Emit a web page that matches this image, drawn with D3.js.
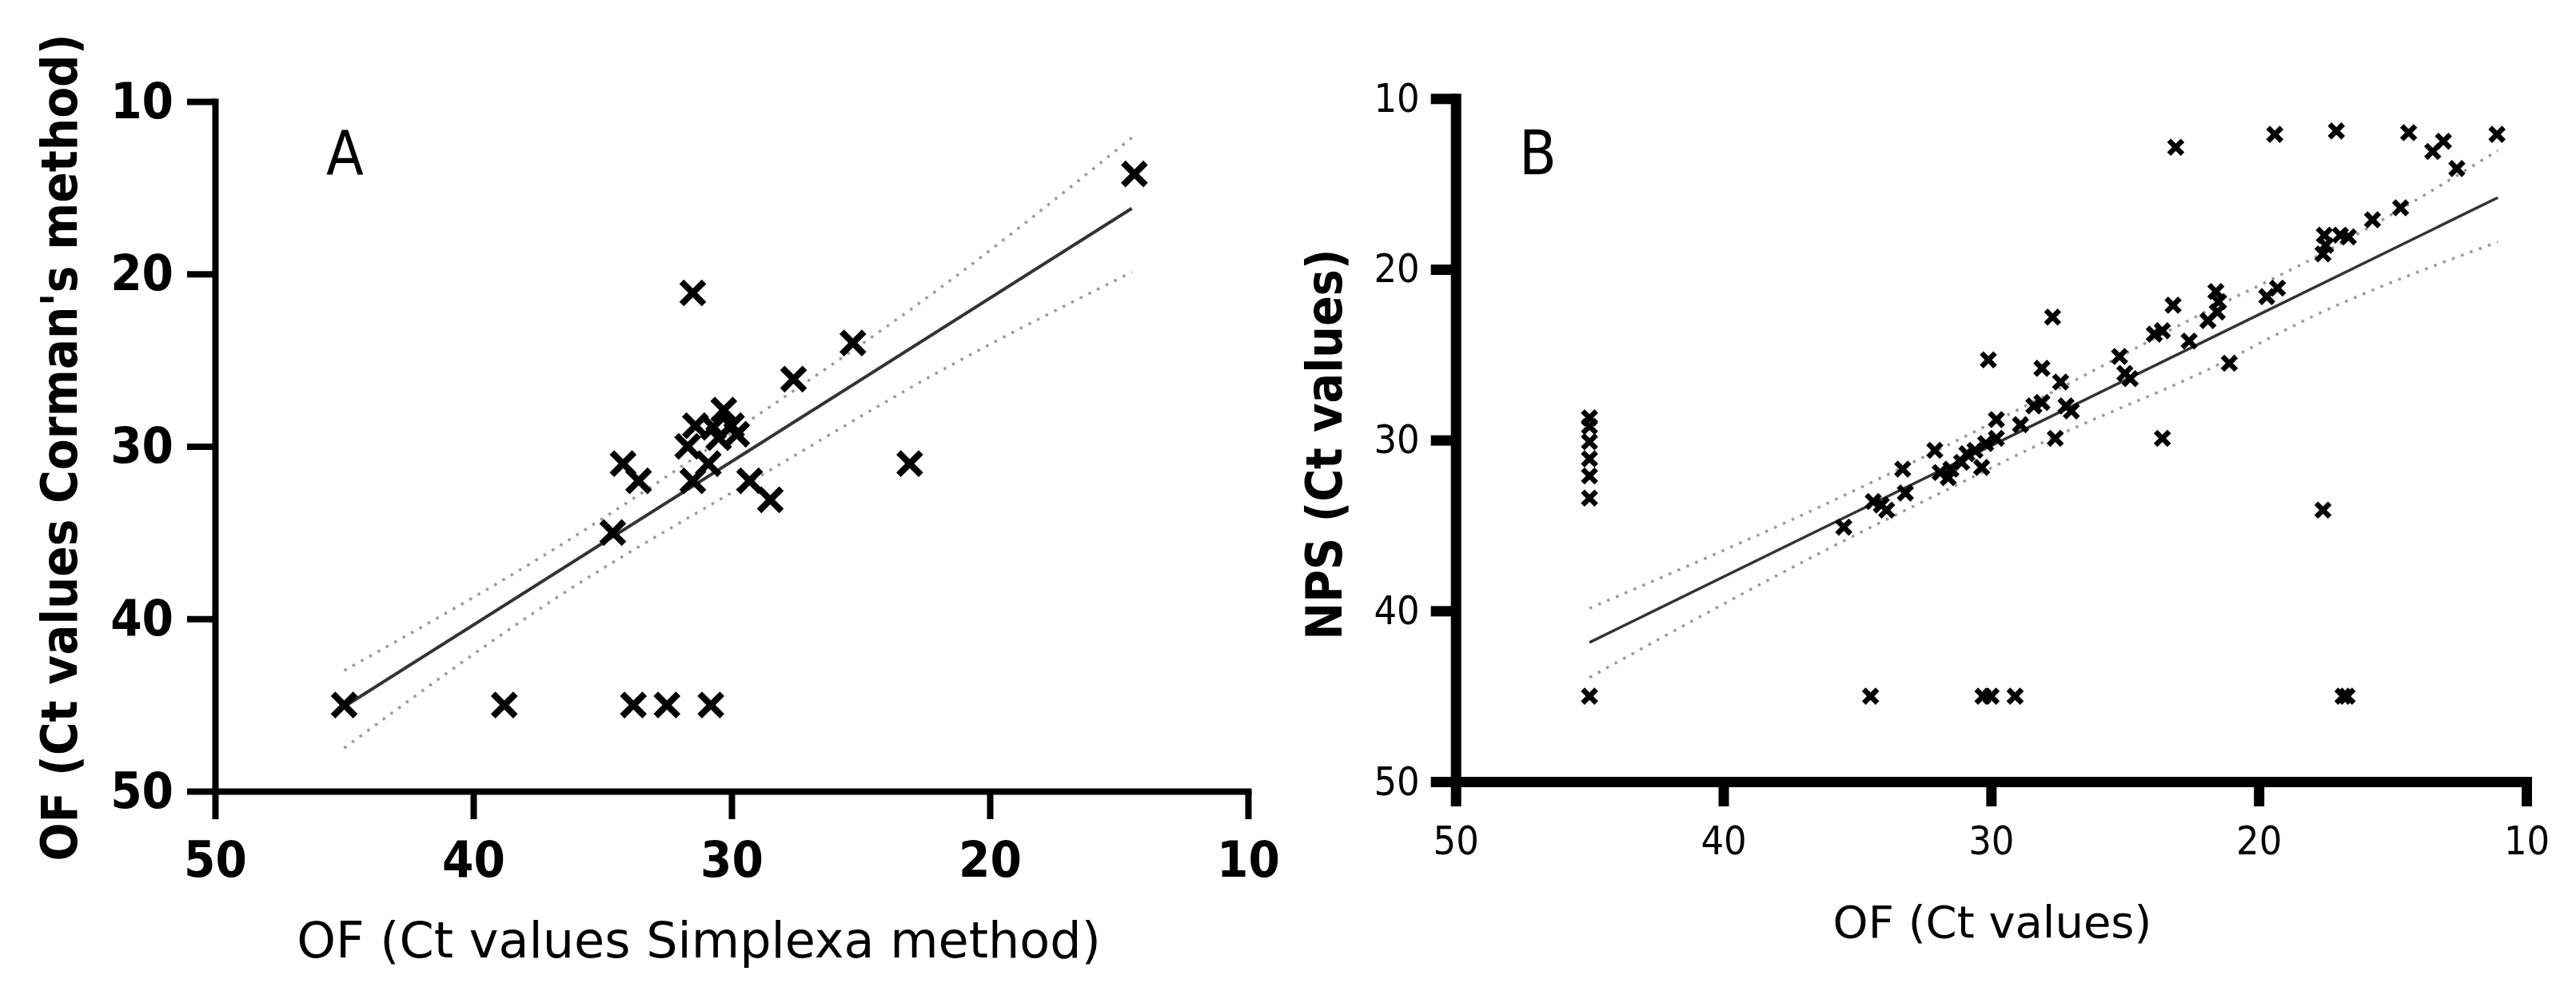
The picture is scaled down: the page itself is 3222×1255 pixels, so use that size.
<!DOCTYPE html>
<html>
<head>
<meta charset="utf-8">
<script src="https://cdn.jsdelivr.net/npm/d3@7"></script>
<style>
  body { margin: 0; background: #fff; }
  svg { display: block; }
  .tick text { fill: #000; }
</style>
</head>
<body>
<div class="chart"></div>
<script>
// ---- data ----
const tickValues = [10, 20, 30, 40, 50]

// panel A : OF Simplexa (x) vs OF Corman (y)
const aX = [14.4, 31.5, 25.3, 27.6, 30.3, 31.4, 30.7, 30.0, 29.8, 30.5, 31.7, 30.9,
            34.2, 33.6, 31.5, 29.3, 28.5, 23.1, 34.6, 45.0, 38.8, 33.8, 32.5, 30.8]
const aY = [14.2, 21.1, 24.0, 26.1, 27.9, 28.8, 28.9, 28.8, 29.3, 29.5, 30.0, 31.0,
            31.0, 32.0, 32.0, 32.0, 33.1, 31.0, 35.0, 45.0, 45.0, 45.0, 45.0, 45.0]
const aFitX = [45.0, 14.5]
const aFitY = [45.1, 16.2]
const aBandX = [45.0, 36.7, 29.1, 22.0, 14.5]
const aBandUpper = [43.0, 35.8, 28.3, 20.9, 12.1]
const aBandLower = [47.5, 38.7, 31.9, 25.7, 19.9]

// panel B : OF (x) vs NPS (y)
const bX = [45, 45, 45, 45, 45, 45, 45,
            35.5, 34.4, 34.1, 33.9, 33.2, 33.3, 32.1, 31.9, 31.6, 31.5, 31.1, 30.9, 30.6,
            30.35, 30.2, 29.8, 30.1, 29.8, 28.9, 28.4, 28.1, 27.2, 27.0, 27.6, 27.7, 28.1,
            27.4, 25.2, 25.0, 24.8, 23.9, 23.6, 23.2, 22.6, 21.9, 21.6, 21.5, 21.55, 21.1,
            19.7, 19.3, 23.6, 17.6, 23.1, 19.4, 17.1, 14.4, 13.1, 13.5, 11.1, 12.6, 14.7,
            15.75, 17.55, 16.95, 16.65, 17.6, 17.5,
            34.5, 30.3, 30.0, 29.1, 16.85, 16.7]
const bY = [28.7, 29.2, 30.1, 31.1, 32.1, 33.4, 45,
            35.1, 33.6, 33.8, 34.1, 33.1, 31.7, 30.6, 31.9, 32.2, 31.7, 31.3, 30.8, 30.6,
            31.6, 30.2, 29.9, 25.3, 28.8, 29.1, 28.0, 27.8, 28.0, 28.3, 29.9, 22.8, 25.8,
            26.6, 25.1, 26.1, 26.4, 23.8, 23.6, 22.1, 24.2, 23.0, 21.3, 21.9, 22.5, 25.5,
            21.6, 21.1, 29.9, 34.1, 12.85, 12.1, 11.9, 12.0, 12.5, 13.1, 12.1, 14.1, 16.4,
            17.1, 18.0, 18.0, 18.1, 19.1, 18.6,
            45, 45, 45, 45, 45, 45]
const bFitX = [45.0, 11.07]
const bFitY = [41.85, 15.8]
const bBandX = [45.0, 35.5, 31.5, 27.6, 22.0, 17.9, 11.07]
const bBandUpper = [39.85, 33.25, 30.2, 27.1, 22.5, 19.3, 13.05]
const bBandLower = [43.9, 35.9, 32.8, 29.8, 25.95, 22.7, 18.4]

const W = 3222, H = 1255
const narrow = "'DejaVu Sans Condensed', 'DejaVu Sans', sans-serif"
const wide = "'DejaVu Sans', sans-serif"

const svg = d3.select(".chart")
    .append("svg")
        .attr("width", W)
        .attr("height", H)

svg.append("rect").attr("width", W).attr("height", H).attr("fill", "#fff")

const zip = (xs, ys) => xs.map((x, i) => ({x: x, y: ys[i]}))

function drawPanel(p) {
    const x = d3.scaleLinear().domain([50, 10]).range(p.xRange)
    const y = d3.scaleLinear().domain([10, 50]).range(p.yRange)
    const g = svg.append("g")

    // confidence band (dotted)
    const curve = d3.line()
        .x(d => x(d.x))
        .y(d => y(d.y))
        .curve(d3.curveMonotoneX)

    const bands = [zip(p.bandX, p.bandUpper), zip(p.bandX, p.bandLower)]
    g.selectAll(".band")
        .data(bands)
        .enter()
        .append("path")
            .attr("class", "band")
            .attr("d", curve)
            .attr("fill", "none")
            .attr("stroke", "#9a9a9a")
            .attr("stroke-width", 3.5)
            .attr("stroke-dasharray", "3.5,8.5")

    // regression line
    g.append("path")
        .datum(zip(p.fitX, p.fitY))
        .attr("d", d3.line().x(d => x(d.x)).y(d => y(d.y)))
        .attr("fill", "none")
        .attr("stroke", "#333")
        .attr("stroke-width", p.fitWidth)

    // x markers
    const s = p.markerSize
    g.selectAll(".pt")
        .data(zip(p.px, p.py))
        .enter()
        .append("path")
            .attr("class", "pt")
            .attr("transform", d => "translate(" + x(d.x) + "," + y(d.y) + ")")
            .attr("d", `M${-s},${-s}L${s},${s}M${-s},${s}L${s},${-s}`)
            .attr("stroke", "#000")
            .attr("stroke-width", p.markerWidth)
            .attr("fill", "none")

    // axes
    const xAxis = g.append("g")
        .attr("transform", "translate(0," + p.yRange[1] + ")")
        .call(d3.axisBottom(x).tickValues(tickValues).tickSize(p.tickSize)
              .tickSizeOuter(0).tickPadding(p.xPad).tickFormat(d3.format("d")))
    const yAxis = g.append("g")
        .attr("transform", "translate(" + p.xRange[0] + ",0)")
        .call(d3.axisLeft(y).tickValues(tickValues).tickSize(p.tickSize)
              .tickSizeOuter(0).tickPadding(p.yPad).tickFormat(d3.format("d")))

    ;[xAxis, yAxis].forEach(ax => {
        ax.select(".domain")
            .attr("stroke", "#000")
            .attr("stroke-width", p.axisWidth)
            .attr("stroke-linecap", "square")
        ax.selectAll(".tick line")
            .attr("stroke", "#000")
            .attr("stroke-width", p.axisWidth)
        ax.selectAll(".tick text")
            .attr("font-family", narrow)
            .attr("font-size", p.tickFont)
            .attr("font-weight", p.tickWeight)
    })

    // panel letter
    g.append("text")
        .attr("x", p.letterPos[0])
        .attr("y", p.letterPos[1])
        .attr("font-family", narrow)
        .attr("font-size", 76)
        .text(p.letter)

    // axis titles
    g.append("text")
        .attr("x", p.xTitlePos[0])
        .attr("y", p.xTitlePos[1])
        .attr("text-anchor", "middle")
        .attr("font-family", wide)
        .attr("font-size", p.xTitleFont)
        .text(p.xTitle)

    g.append("text")
        .attr("transform", "translate(" + p.yTitlePos[0] + "," + p.yTitlePos[1] + ") rotate(-90)")
        .attr("text-anchor", "middle")
        .attr("font-family", narrow)
        .attr("font-size", p.yTitleFont)
        .attr("font-weight", "bold")
        .text(p.yTitle)
}

drawPanel({
    xRange: [269, 1561], yRange: [127, 990],
    px: aX, py: aY,
    fitX: aFitX, fitY: aFitY, fitWidth: 4,
    bandX: aBandX, bandUpper: aBandUpper, bandLower: aBandLower,
    markerSize: 14, markerWidth: 8,
    tickSize: 35, xPad: 27, yPad: 17, axisWidth: 8,
    tickFont: 63, tickWeight: "bold",
    letter: "A", letterPos: [408, 218],
    xTitle: "OF (Ct values Simplexa method)", xTitlePos: [874, 1198], xTitleFont: 62,
    yTitle: "OF (Ct values Corman's method)", yTitlePos: [96, 560], yTitleFont: 63
})

drawPanel({
    xRange: [1820.7, 3160], yRange: [123.3, 978],
    px: bX, py: bY,
    fitX: bFitX, fitY: bFitY, fitWidth: 3.5,
    bandX: bBandX, bandUpper: bBandUpper, bandLower: bBandLower,
    markerSize: 8.5, markerWidth: 6.5,
    tickSize: 31, xPad: 24, yPad: 14, axisWidth: 13,
    tickFont: 50, tickWeight: "normal",
    letter: "B", letterPos: [1900, 218],
    xTitle: "OF (Ct values)", xTitlePos: [2492, 1173], xTitleFont: 56,
    yTitle: "NPS (Ct values)", yTitlePos: [1678, 556], yTitleFont: 62
})
</script>
</body>
</html>
